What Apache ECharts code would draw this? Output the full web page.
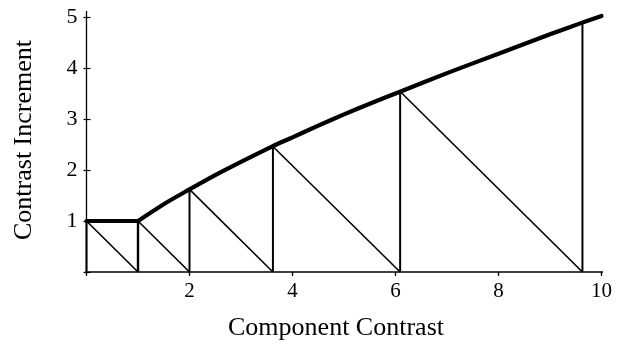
<!DOCTYPE html>
<html>
<head>
<meta charset="utf-8">
<script src="https://cdn.jsdelivr.net/npm/echarts@6/dist/echarts.min.js"></script>
<style>
  html, body { margin: 0; padding: 0; background: #fff; }
  #chart { width: 621px; height: 345px; }
</style>
</head>
<body>
<div id="chart"></div>
<script>
// Envelope curve: contrast increment as a function of component contrast
const flatX = [0, 1];
const flatY = [1, 1];
const curveX = [1, 1.5, 2, 2.5, 3, 3.6, 4, 4.5, 5, 5.5, 6.1, 7, 8, 9, 9.6, 10];
const curveY = [1, 1.33, 1.62, 1.9, 2.16, 2.46, 2.64, 2.87, 3.09, 3.3, 3.54, 3.9, 4.28, 4.66, 4.88, 5.02];

// Staircase: vertical rise at each step, then a diagonal down to the next step's base
const stepX = [0, 1, 2, 3.62, 6.09, 9.63];
const stepTop = [1, 1, 1.62, 2.46, 3.54, 4.88];

// Axis ticks
const xTicks = [0, 2, 4, 6, 8, 10];
const yTicks = [0, 1, 2, 3, 4, 5];

const FONT = 'Liberation Serif';
const INK = '#000';

const series = [];

// Axis lines drawn as data lines so they may run past the tick range
series.push({
  type: 'line', xAxisIndex: 0, yAxisIndex: 0, clip: false, silent: true,
  symbol: 'none', lineStyle: { color: INK, width: 1.3 },
  data: [[-0.26, 0], [10.24, 0]]
});
series.push({
  type: 'line', xAxisIndex: 0, yAxisIndex: 0, clip: false, silent: true,
  symbol: 'none', lineStyle: { color: INK, width: 1.3 },
  data: [[0, 0], [0, 5.12]]
});

// Vertical segments
stepX.forEach((x, i) => {
  series.push({
    type: 'line', xAxisIndex: 0, yAxisIndex: 0, clip: false, silent: true,
    symbol: 'none', lineStyle: { color: INK, width: i === 1 ? 2.4 : 2 },
    data: [[x, 0], [x, stepTop[i]]]
  });
});

// Diagonal segments
for (let i = 0; i < stepX.length - 1; i++) {
  series.push({
    type: 'line', xAxisIndex: 0, yAxisIndex: 0, clip: false, silent: true,
    symbol: 'none', lineStyle: { color: INK, width: 1.6 },
    data: [[stepX[i], stepTop[i]], [stepX[i + 1], 0]]
  });
}

// Thick envelope
series.push({
  type: 'line', xAxisIndex: 0, yAxisIndex: 0, clip: false, silent: true,
  symbol: 'none', lineStyle: { color: INK, width: 4.2, cap: 'round' },
  data: flatX.map((x, i) => [x, flatY[i]])
});
series.push({
  type: 'line', xAxisIndex: 0, yAxisIndex: 0, clip: false, silent: true,
  symbol: 'none', smooth: 0.3, lineStyle: { color: INK, width: 4.2, cap: 'round', join: 'round' },
  data: curveX.map((x, i) => [x, curveY[i]])
});

const baseX = {
  type: 'value', min: xTicks[0], max: xTicks[xTicks.length - 1], interval: 2,
  axisLine: { show: false }, splitLine: { show: false }
};
const baseY = {
  type: 'value', min: yTicks[0], max: yTicks[yTicks.length - 1], interval: 1,
  axisLine: { show: false }, splitLine: { show: false }
};

const option = {
  animation: false,
  backgroundColor: '#fff',
  grid: { left: 86.5, right: 19.5, top: 17, bottom: 73 },
  xAxis: [
    Object.assign({}, baseX, {
      axisTick: { show: true, inside: false, length: 4, lineStyle: { color: INK, width: 1.2 } },
      axisLabel: {
        color: INK, fontFamily: FONT, fontSize: 21, margin: 9,
        formatter: v => (v === 0 ? '' : String(v))
      }
    }),
    Object.assign({}, baseX, {
      axisTick: { show: true, inside: true, length: 3, lineStyle: { color: INK, width: 1.2 } },
      axisLabel: { show: false }
    })
  ],
  yAxis: [
    Object.assign({}, baseY, {
      axisTick: { show: true, inside: true, length: 4, lineStyle: { color: INK, width: 1.2 } },
      axisLabel: {
        color: INK, fontFamily: FONT, fontSize: 22, margin: 9,
        formatter: v => (v === 0 ? '' : String(v))
      }
    }),
    Object.assign({}, baseY, {
      position: 'left',
      axisTick: { show: true, inside: false, length: 3, lineStyle: { color: INK, width: 1.2 } },
      axisLabel: { show: false }
    })
  ],
  graphic: [
    {
      type: 'text', x: 336, y: 328,
      style: {
        text: 'Component Contrast', font: '26px "' + FONT + '"',
        fill: INK, textAlign: 'center', textVerticalAlign: 'middle'
      }
    },
    {
      type: 'text', x: 24, y: 140, rotation: Math.PI / 2,
      style: {
        text: 'Contrast Increment', font: '26px "' + FONT + '"',
        fill: INK, textAlign: 'center', textVerticalAlign: 'middle'
      }
    }
  ],
  series: series
};

const chart = echarts.init(document.getElementById('chart'), null, { renderer: 'canvas' });
chart.setOption(option);
</script>
</body>
</html>
